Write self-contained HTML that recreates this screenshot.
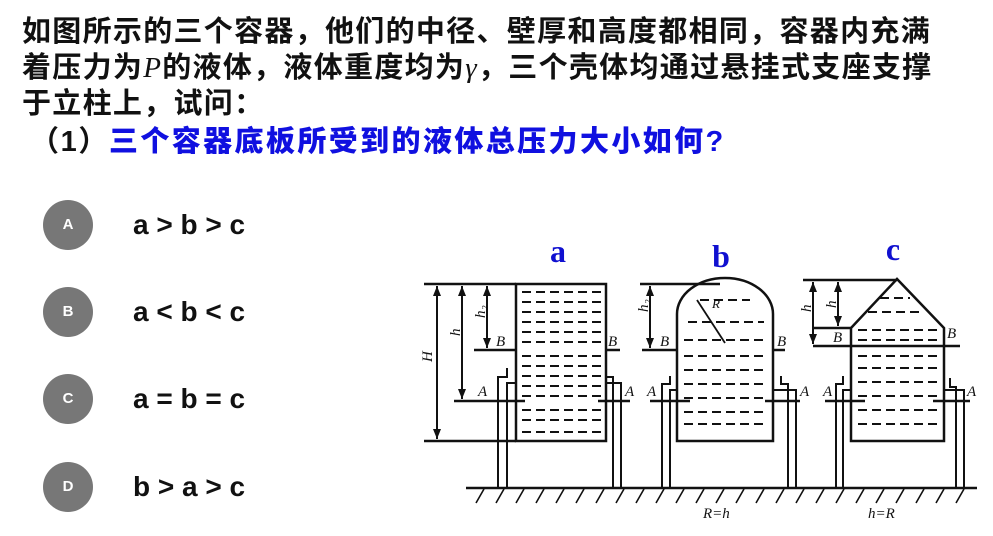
<!DOCTYPE html>
<html><head><meta charset="utf-8"><style>
body{margin:0;width:993px;height:536px;background:#fff;position:relative;overflow:hidden;font-family:"Liberation Sans","Noto Sans CJK SC",sans-serif;}
.q{position:absolute;left:22px;top:14px;font-size:29px;font-weight:bold;line-height:36px;letter-spacing:1.3px;color:#111;white-space:nowrap;}
.i{font-family:"Liberation Serif",serif;font-style:italic;font-weight:normal;}
.s{position:absolute;left:30px;top:124px;font-size:29px;font-weight:bold;line-height:36px;white-space:nowrap;color:#111;letter-spacing:1.6px;}
.s b{color:#1010e0;letter-spacing:2.4px;}
.c{position:absolute;left:43px;width:50px;height:50px;border-radius:50%;background:#777;color:#fff;font-size:15px;line-height:50px;text-align:center;font-weight:bold;}
.o{position:absolute;left:133px;font-size:28px;font-weight:bold;color:#111;line-height:30px;}
</style></head><body>
<div class="q">如图所示的三个容器，他们的中径、壁厚和高度都相同，容器内充满<br>着压力为<span class="i">P</span>的液体，液体重度均为<span class="i">γ</span>，三个壳体均通过悬挂式支座支撑<br>于立柱上，试问：</div>
<div class="s">（1）<b>三个容器底板所受到的液体总压力大小如何?</b></div>
<div class="c" style="top:200px">A</div><div class="o" style="top:210px">a &gt; b &gt; c</div>
<div class="c" style="top:287px">B</div><div class="o" style="top:297px">a &lt; b &lt; c</div>
<div class="c" style="top:374px">C</div><div class="o" style="top:384px">a = b = c</div>
<div class="c" style="top:462px">D</div><div class="o" style="top:472px">b &gt; a &gt; c</div>
<svg style="position:absolute;left:0;top:0" width="993" height="536">
<g font-family="Liberation Serif,serif" font-weight="bold" fill="#1010d0" font-size="32" text-anchor="middle">
<text x="558" y="262">a</text><text x="721" y="267">b</text><text x="893" y="260">c</text></g>
<g stroke="#111" stroke-width="2.5" fill="none">
<rect x="516" y="284" width="90" height="157"/>
<line x1="424" y1="284" x2="516" y2="284"/><line x1="424" y1="441" x2="516" y2="441"/>
<line x1="474" y1="350" x2="516" y2="350"/><line x1="454" y1="401" x2="525" y2="401"/>
<line x1="606" y1="350" x2="620" y2="350"/><line x1="598" y1="401" x2="630" y2="401"/>
<path d="M677 441 V314 A48 36 0 0 1 773 314 V441 Z"/>
<line x1="640" y1="284" x2="720" y2="284"/><line x1="642" y1="350" x2="677" y2="350"/><line x1="773" y1="350" x2="785" y2="350"/>
<line x1="650" y1="401" x2="690" y2="401"/><line x1="765" y1="401" x2="800" y2="401"/>
<line x1="697" y1="300" x2="725" y2="343" stroke-width="1.8"/>
<path d="M851 441 V328 L897 279 L944 328 V441 Z"/>
<line x1="803" y1="280" x2="897" y2="280"/><line x1="813" y1="328" x2="851" y2="328"/><line x1="813" y1="346" x2="960" y2="346"/>
<line x1="825" y1="401" x2="865" y2="401"/><line x1="933" y1="401" x2="970" y2="401"/>
<line x1="466" y1="488" x2="977" y2="488"/>
</g>
<g stroke="#111" stroke-width="2" fill="none">
<path d="M498 488 V377 H507 V368"/><path d="M507 488 V383 H516"/>
<path d="M613 488 V377 H606 V368"/><path d="M621 488 V383 H606"/>
<path d="M662 488 V384 H670 V376"/><path d="M670 488 V390 H677"/>
<path d="M788 488 V384 H781 V376"/><path d="M796 488 V390 H773"/>
<path d="M836 488 V384 H843 V376"/><path d="M843 488 V390 H851"/>
<path d="M956 488 V387 H950 V378"/><path d="M964 488 V390 H944"/>
<line x1="437" y1="286" x2="437" y2="439"/><line x1="462" y1="286" x2="462" y2="399"/><line x1="487" y1="286" x2="487" y2="348"/>
<line x1="650" y1="286" x2="650" y2="348"/><line x1="813" y1="282" x2="813" y2="344"/><line x1="838" y1="282" x2="838" y2="326"/>
</g>
<g fill="#111">
<path d="M437 286 l-4 10 h8z M437 439 l-4 -10 h8z M462 286 l-4 10 h8z M462 399 l-4 -10 h8z M487 286 l-4 10 h8z M487 348 l-4 -10 h8z M650 286 l-4 10 h8z M650 348 l-4 -10 h8z M813 282 l-4 10 h8z M813 344 l-4 -10 h8z M838 282 l-4 10 h8z M838 326 l-4 -10 h8z"/>
</g>
<g stroke="#111" stroke-width="1.6">
<path d="M476 503 l8 -14 M496 503 l8 -14 M516 503 l8 -14 M536 503 l8 -14 M556 503 l8 -14 M576 503 l8 -14 M596 503 l8 -14 M616 503 l8 -14 M636 503 l8 -14 M656 503 l8 -14 M676 503 l8 -14 M696 503 l8 -14 M716 503 l8 -14 M736 503 l8 -14 M756 503 l8 -14 M776 503 l8 -14 M796 503 l8 -14 M816 503 l8 -14 M836 503 l8 -14 M856 503 l8 -14 M876 503 l8 -14 M896 503 l8 -14 M916 503 l8 -14 M936 503 l8 -14 M956 503 l8 -14"/>
</g>
<g stroke="#111" stroke-width="2" stroke-dasharray="9 5">
<path d="M522 292h80M522 302h80M522 312h80M522 322h80M522 332h80M522 342h80M522 356h80M522 366h80M522 376h80M522 386h80M522 396h80M522 410h80M522 420h80M522 432h80"/>
<path d="M700 300h50M688 322h76M684 340h84M684 356h84M684 370h84M684 384h84M684 398h84M684 412h84M684 424h84"/>
<path d="M880 298h30M868 312h56M858 330h80M858 340h80M858 356h80M858 368h80M858 382h80M858 396h80M858 410h80M858 424h80"/>
</g>
<g font-family="Liberation Serif,serif" font-style="italic" font-size="15" fill="#111">
<text x="496" y="346">B</text><text x="608" y="346">B</text><text x="478" y="396">A</text><text x="625" y="396">A</text>
<text x="660" y="346">B</text><text x="777" y="346">B</text><text x="647" y="396">A</text><text x="800" y="396">A</text>
<text x="833" y="342">B</text><text x="947" y="338">B</text><text x="823" y="396">A</text><text x="967" y="396">A</text>
<text x="703" y="518">R=h</text><text x="868" y="518">h=R</text>
<text x="712" y="308" font-size="13">R</text>
<text transform="translate(432 362) rotate(-90)">H</text>
<text transform="translate(460 336) rotate(-90)">h</text><text transform="translate(485 318) rotate(-90)">h₂</text>
<text transform="translate(648 312) rotate(-90)">h₂</text>
<text transform="translate(811 312) rotate(-90)">h</text><text transform="translate(836 308) rotate(-90)">h</text>
</g>
</svg>
</body></html>
